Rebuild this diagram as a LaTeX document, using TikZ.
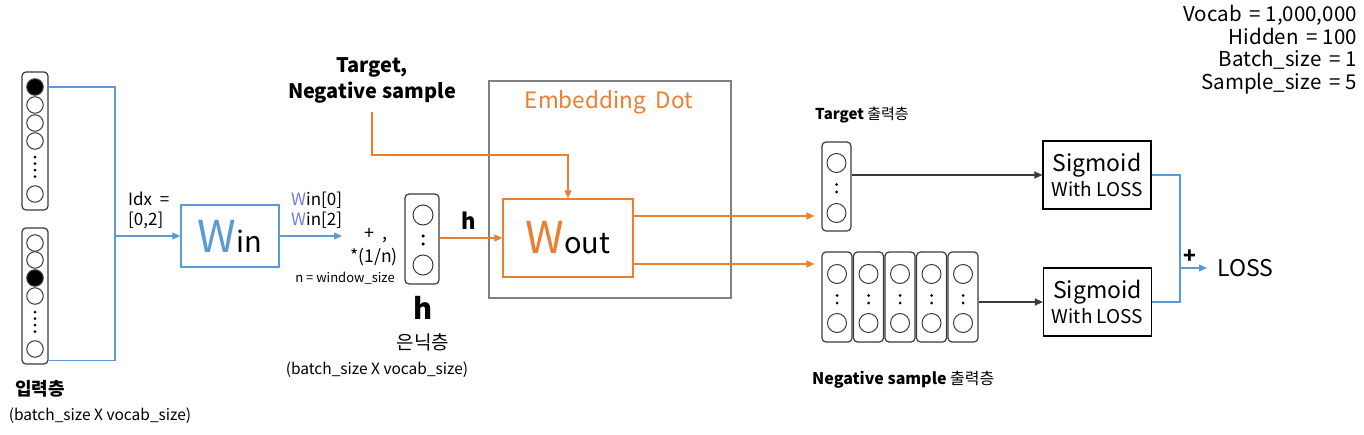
\documentclass[tikz,border=0pt]{standalone}
\usepackage{fontspec}
\setmainfont{Noto Sans CJK KR}
\usetikzlibrary{arrows.meta}
\definecolor{myblue}{HTML}{5B9BD5}
\definecolor{wblue}{HTML}{6F7FD8}
\definecolor{myorange}{HTML}{ED7D31}
\definecolor{boxgray}{HTML}{808080}
\definecolor{vecgray}{HTML}{3A3A3A}
\newcommand{\fs}[1]{\fontsize{#1}{#1}\selectfont}
\begin{document}
\begin{tikzpicture}[x=1pt,y=-1pt,
  vec/.style={draw=vecgray, line width=1.2pt, rounded corners=4pt, inner sep=0pt},
  neuron/.style={circle, draw=vecgray, line width=1pt, minimum size=#1, inner sep=0pt},
  neuron/.default=16.5pt,
  onneuron/.style={neuron, fill=black},
  dotn/.style={circle, fill=black, minimum size=3pt, inner sep=0pt},
  bluel/.style={draw=myblue, line width=1.4pt},
  orl/.style={draw=myorange, line width=1.3pt},
  blkl/.style={draw=vecgray, line width=1.2pt},
  tip/.style={-{Triangle[length=8pt,width=7pt]}},
  txt/.style={inner sep=0pt, align=center},
]
\useasboundingbox (0,0) rectangle (1364,434);

% ---------- input vectors ----------
\node[vec, minimum width=26pt, minimum height=138pt] (v1) at (35,141) {};
\node[onneuron] (c11) at (35,87) {};
\node[neuron] (c12) at (35,105) {};
\node[neuron] (c13) at (35,123) {};
\node[neuron] (c14) at (35,141) {};
\foreach \y [count=\i] in {157,163.5,170,176.5} \node[dotn] (d1\i) at (35,\y) {};
\node[neuron] (c15) at (35,194) {};

\node[vec, minimum width=26pt, minimum height=136pt] (v2) at (35,296) {};
\node[neuron] (c21) at (35,243) {};
\node[neuron] (c22) at (35,260) {};
\node[onneuron] (c23) at (35,278) {};
\node[neuron] (c24) at (35,296) {};
\foreach \y [count=\i] in {312,318.5,325,331.5} \node[dotn] (d2\i) at (35,\y) {};
\node[neuron] (c25) at (35,349) {};

\node[txt, font=\fs{18}\bfseries] (inlab) at (40,389) {입력층};
\node[txt, font=\fs{15.5}] (insz) at (100,416) {(batch\_size X vocab\_size)};

% ---------- Win ----------
\node[draw=myblue, line width=1.3pt, minimum width=98pt, minimum height=62pt, inner sep=0pt] (win) at (230,236)
  {{\fs{44}\color{myblue}W}{\fs{29}in}};
\coordinate (jn) at (115,236);
\coordinate (v1o) at (v1.east |- c11);
\coordinate (v2o) at ([yshift=4pt]v2.south east);
\draw[bluel] (v1o) -| (jn);
\draw[bluel] (v2o) -| (jn);
\draw[bluel, tip] (jn) -- (win.west);
\node[txt, anchor=west, align=left, font=\fs{17}] (idx) at (128,210) {Idx \ =\\[3pt][0,2]};

\coordinate (wa) at (342,236);
\draw[bluel, tip] (win.east) -- (wa);
\node[txt, anchor=west, align=left, font=\fs{17}] (widx) at (291,210) {{\color{wblue}W}in[0]\\[3pt]{\color{wblue}W}in[2]};
\node[txt, font=\fs{18}] (plus) at (376,236) {+ \,,};
\node[txt, font=\fs{17.5}] (avg) at (374,257) {*(1/n)};
\node[txt, font=\fs{13}] (nws) at (345,278) {n = window\_size};

% ---------- hidden ----------
\node[vec, minimum width=34pt, minimum height=90pt] (hb) at (422,239) {};
\node[neuron=20pt] (h1) at (423,215) {};
\node[dotn, minimum size=3.5pt] (hd1) at (423,236) {};
\node[dotn, minimum size=3.5pt] (hd2) at (423,244) {};
\node[neuron=20pt] (h2) at (423,265) {};
\node[txt, font=\fs{29}\bfseries] (hlab) at (423,308) {h};
\node[txt, font=\fs{19}] (hkr) at (423,342) {은닉층};
\node[txt, font=\fs{15.5}] (hsz) at (377,370) {(batch\_size X vocab\_size)};

% ---------- Embedding Dot ----------
\node[draw=boxgray, line width=1.3pt, minimum width=242pt, minimum height=217pt, inner sep=0pt] (emb) at (610,189.5) {};
\node[txt, font=\fs{22.5}, text=myorange] (embl) at (609,102) {Embedding \ Dot};
\node[draw=myorange, line width=1.3pt, minimum width=130pt, minimum height=78pt, inner sep=0pt] (wout) at (568,238)
  {{\fs{44}\color{myorange}W}{\fs{29}out}};
\draw[orl, tip] (hb.east |- wout.west) -- (wout.west);
\node[txt, font=\fs{22}\bfseries] (hr) at (469,221) {h};

\node[txt, font=\fs{20}\bfseries] (tn) at (372,80.5) {Target,\\[3pt]Negative sample};
\coordinate (ts) at (372,112);
\coordinate (tbend) at (wout.north |- 0,155);
\draw[orl, tip] (ts) |- (tbend) -- (wout.north);

% ---------- outputs ----------
\node[vec, minimum width=29pt, minimum height=89pt] (tv) at (836.5,186.5) {};
\node[neuron=19pt] (t1) at (836.5,163) {};
\node[dotn] (td1) at (836.5,184.5) {};
\node[dotn] (td2) at (836.5,192) {};
\node[neuron=19pt] (t2) at (836.5,213) {};
\node[txt, anchor=west, font=\fs{15}] (tlab) at (815,115) {\textbf{Target} 출력층};

\foreach \i in {1,...,5} {
  \pgfmathsetmacro{\xx}{837+31.5*(\i-1)}
  \node[vec, minimum width=30pt, minimum height=90pt] (n\i) at (\xx,297) {};
  \node[neuron=19pt] (n\i a) at (\xx,274) {};
  \node[dotn] (n\i d1) at (\xx,295.5) {};
  \node[dotn] (n\i d2) at (\xx,303) {};
  \node[neuron=19pt] (n\i b) at (\xx,323) {};
}
\node[txt, anchor=west, font=\fs{16}] (nlab) at (812,380) {\textbf{Negative sample} 출력층};

\coordinate (o1) at ([yshift=22pt]wout.east);
\coordinate (o2) at ([yshift=-26pt]wout.east);
\draw[orl, tip, shorten >=7pt] (o1) -- (o1 -| tv.west);
\draw[orl, tip, shorten >=7pt] (o2) -- (o2 -| n1.west);

% ---------- sigmoid ----------
\node[draw=black, line width=1.2pt, minimum width=108pt, minimum height=68pt, inner sep=0pt, align=center] (s1) at (1097,175)
  {{\fs{23}Sigmoid}\\[3pt]{\fs{19}With LOSS}};
\node[draw=black, line width=1.2pt, minimum width=108pt, minimum height=68pt, inner sep=0pt, align=center] (s2) at (1097.5,302)
  {{\fs{23}Sigmoid}\\[3pt]{\fs{19}With LOSS}};
\draw[blkl, tip] (s1.west -| tv.east) -- (s1.west);
\draw[blkl, tip] (s2.west -| n5.east) -- (s2.west);

\coordinate (lj) at (1180,268);
\node[anchor=west, inner sep=4pt, font=\fs{23}] (loss) at (1213,268) {LOSS};
\draw[bluel] (s1.east) -| (lj);
\draw[bluel] (s2.east) -| (lj);
\draw[bluel, tip, shorten >=6pt] (lj) -- (loss.west);
\node[txt, font=\fs{21}] (pl) at (1190,257) {\textbf{+}};

% ---------- parameters ----------
\node[anchor=north east, inner sep=0pt, align=right, font=\fs{20.5}] (par) at (1357,5)
  {Vocab \,= 1,000,000\\[2pt]Hidden \,= 100\\[2pt]Batch\_size \,= 1\\[2pt]Sample\_size \,= 5};
\end{tikzpicture}
\end{document}
